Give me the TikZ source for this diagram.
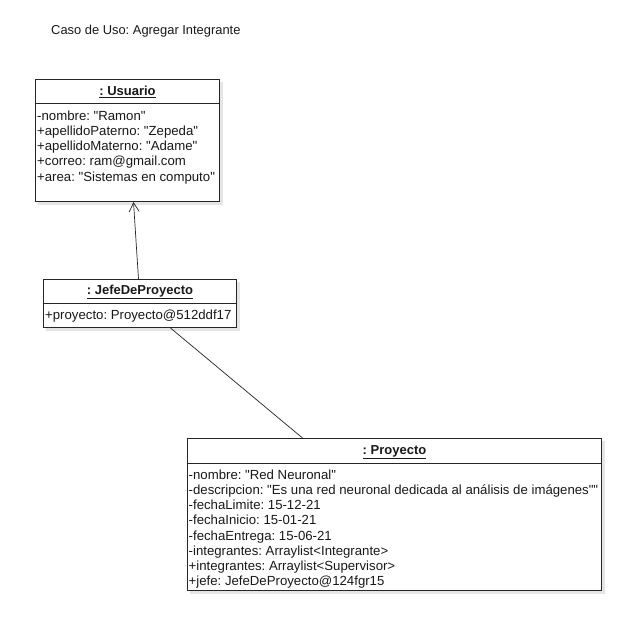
\documentclass[tikz,border=0pt]{standalone}
\usepackage{fontspec}
\setmainfont{Liberation Sans}[Ligatures=TeXOff]
\usetikzlibrary{arrows.meta}
\frenchspacing
\tikzset{
  objbox/.style={draw=black!85, line width=1pt, fill=white, inner sep=0pt, anchor=north west},
  hdr/.style={font=\fontsize{13}{15}\selectfont\bfseries, inner sep=0pt, text=black!90},
  attr/.style={font=\fontsize{13.2}{15.2}\selectfont, align=left, inner sep=0pt, anchor=north west, text=black!90},
  divider/.style={draw=black!85, line width=0.8pt},
  conn/.style={draw=black!85, line width=0.7pt}
}
\begin{document}
\begin{tikzpicture}[x=1pt,y=-1pt]
\frenchspacing
\useasboundingbox (0,0) rectangle (631,616);
\fill[white] (0,0) rectangle (631,616);

\node[font=\fontsize{12.9}{15}\selectfont, anchor=west, inner sep=0pt, text=black!90] (title) at (51,31) {Caso de Uso: Agregar Integrante};

% shadows
\fill[black!10] (38,82) rectangle (223,205);
\fill[black!10] (46,282) rectangle (240,331);
\fill[black!10] (190,441) rectangle (605,594);

% Usuario
\node[objbox, minimum width=184pt, minimum height=122pt] (usuario) at (35,79) {};
\draw[divider] ([yshift=-24pt]usuario.north west) -- ([yshift=-24pt]usuario.north east);
\node[hdr] (usuarioT) at ([yshift=-13pt]usuario.north) {\underline{: Usuario}};
\node[attr] (usuarioA) at ([xshift=2pt,yshift=-31.5pt]usuario.north west) {-nombre: "Ramon"\\+apellidoPaterno: "Zepeda"\\+apellidoMaterno: "Adame"\\+correo: ram@gmail.com\\+area: "Sistemas en computo"};

% JefeDeProyecto
\node[objbox, minimum width=193pt, minimum height=48pt] (jefe) at (43,279) {};
\draw[divider] ([yshift=-24pt]jefe.north west) -- ([yshift=-24pt]jefe.north east);
\node[hdr] (jefeT) at ([yshift=-13pt]jefe.north) {\underline{: JefeDeProyecto}};
\node[attr] (jefeA) at ([xshift=2pt,yshift=-31pt]jefe.north west) {+proyecto: Proyecto@512ddf17};

% Proyecto
\node[objbox, minimum width=414pt, minimum height=152pt] (proyecto) at (187,438) {};
\draw[divider] ([yshift=-25pt]proyecto.north west) -- ([yshift=-25pt]proyecto.north east);
\node[hdr] (proyectoT) at ([yshift=-14pt]proyecto.north) {\underline{: Proyecto}};
\node[attr] (proyectoA) at ([xshift=1.5pt,yshift=-31.5pt]proyecto.north west) {-nombre: "Red Neuronal"\\-descripcion: "Es una red neuronal dedicada al análisis de imágenes""\\-fechaLimite: 15-12-21\\-fechaInicio: 15-01-21\\-fechaEntrega: 15-06-21\\-integrantes: Arraylist<Integrante>\\+integrantes: Arraylist<Supervisor>\\+jefe: JefeDeProyecto@124fgr15};

% connectors
\draw[conn, -{Straight Barb[length=9pt,width=10pt,line width=0.7pt]}] ([xshift=-1.5pt]jefe.north) -- ([xshift=6pt]usuario.south);
\draw[conn] ([xshift=30.5pt]jefe.south) -- ([xshift=-92pt]proyecto.north);
\end{tikzpicture}
\end{document}
